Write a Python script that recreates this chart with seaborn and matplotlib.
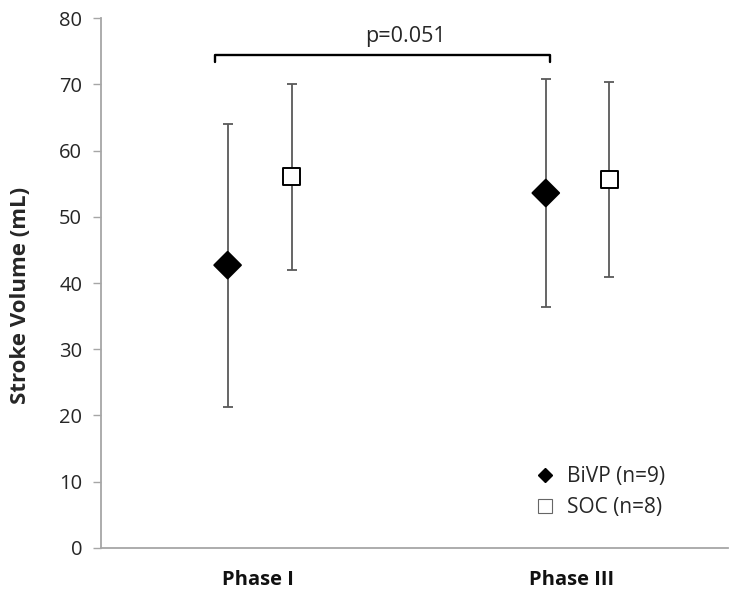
import matplotlib
matplotlib.use("Agg")
import matplotlib.pyplot as plt
import seaborn as sns
import numpy as np
import pandas as pd
from matplotlib.lines import Line2D

phases = ["Phase I", "Phase III"]
groups = ["BiVP (n=9)", "SOC (n=8)"]
bivp_mean = [42.7, 53.6]
bivp_low = [21.2, 36.3]
bivp_high = [64.1, 70.9]
soc_mean = [56.1, 55.6]
soc_low = [41.9, 40.9]
soc_high = [70.1, 70.3]
p_text = "p=0.051"
yticks = [0, 10, 20, 30, 40, 50, 60, 70, 80]

# horizontal dodge of each group within each phase (layout only)
bivp_dodge = [-0.096, -0.081]
soc_dodge = [0.109, 0.121]

sns.set_theme(style="white")
plt.rcParams['font.family'] = ['Open Sans', 'DejaVu Sans']

rows = []
for i, ph in enumerate(phases):
    rows.append(dict(phase=ph, group=groups[0], pos=i + bivp_dodge[i], mean=bivp_mean[i], low=bivp_low[i], high=bivp_high[i]))
    rows.append(dict(phase=ph, group=groups[1], pos=i + soc_dodge[i], mean=soc_mean[i], low=soc_low[i], high=soc_high[i]))
df = pd.DataFrame(rows)

fig = plt.figure(figsize=(7.29, 5.98), dpi=100)
ax = fig.add_axes([0.1385, 0.0841, 0.86, 0.8853])

ax.errorbar(df["pos"], df["mean"],
            yerr=[df["mean"] - df["low"], df["high"] - df["mean"]],
            fmt="none", ecolor="#595959", elinewidth=1.3, capsize=3.6, capthick=1.3, zorder=2)

sns.scatterplot(data=df, x="pos", y="mean", hue="group", style="group",
                markers={groups[0]: "D", groups[1]: "s"},
                palette={groups[0]: "black", groups[1]: "white"},
                s=180, edgecolor="black", linewidth=1.4, legend=False, ax=ax, zorder=3)
coll = ax.collections[-1]
sizes = np.where(df["group"] == groups[0], 185, 150)
coll.set_sizes(sizes)
coll.set_edgecolors(["black"] * len(df))

ax.set_xlim(-0.5, 1.5)
ax.set_ylim(0, 80)
ax.set_yticks(yticks)
ax.set_xticks([0, 1])
ax.set_xticklabels(phases, fontweight="bold", fontsize=14.5)
ax.set_xlabel("")
ax.set_ylabel("Stroke Volume (mL)", fontweight="bold", fontsize=16)
ax.yaxis.set_label_coords(-0.112, 0.477)
ax.tick_params(axis="y", labelsize=14.5, length=6, width=1, color="#a6a6a6", left=True, direction="out", pad=7.5, labelcolor="#262626")
ax.tick_params(axis="x", length=0, pad=16, labelcolor="#111111")

sns.despine(ax=ax)
for s in ["left", "bottom"]:
    ax.spines[s].set_color("#a6a6a6")
    ax.spines[s].set_linewidth(1.3)

# significance bracket
x0, x1 = -0.136, 0.932
ax.plot([x0, x0, x1, x1], [73.4, 74.5, 74.5, 73.4], color="black", lw=1.7, clip_on=False)
ax.text(0.47, 75.6, p_text, ha="center", va="bottom", fontsize=15.5, color="#262626")

handles = [Line2D([], [], marker="D", color="black", ls="none", markersize=7.5, markerfacecolor="black"),
           Line2D([], [], marker="s", color="#666666", ls="none", markersize=9.5, markerfacecolor="white", markeredgewidth=0.8)]
ax.legend(handles, groups, loc="center left", bbox_to_anchor=(0.662, 0.105), frameon=False,
          fontsize=15, handletextpad=0.55, labelspacing=0.45, handlelength=1.0, labelcolor="#262626")

fig.savefig("out.png", dpi=100)
